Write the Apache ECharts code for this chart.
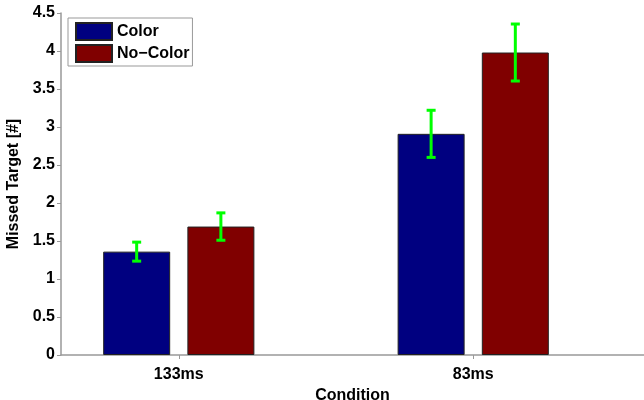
<!DOCTYPE html>
<html lang="en">
<head>
  <meta charset="UTF-8">
  <title>Missed Target</title>
  <script src="https://cdn.jsdelivr.net/npm/echarts@6/dist/echarts.min.js"></script>
</head>
<body style="margin:0;background:#fff;">
  <div id="main" style="width:644px;height:400px;"></div>
  <script>
    // data
    var categories = ['133ms', '83ms']
    var seriesNames = ['Color', 'No\u2212Color']
    var colorVals = [1.36, 2.91]
    var colorErr = [0.125, 0.31]
    var noColorVals = [1.69, 3.98]
    var noColorErr = [0.18, 0.375]

    var offset = 0.143 // group offset in x units (MATLAB grouped bars)
    var font = 'Liberation Sans, Arial, sans-serif'

    function barData(vals, dx) {
      return vals.map(function (v, i) { return [i + 1 + dx, v] })
    }
    function errData(vals, errs, dx) {
      return vals.map(function (v, i) { return [i + 1 + dx, v - errs[i], v + errs[i]] })
    }

    function renderErr(params, api) {
      var lo = api.coord([api.value(0), api.value(1)])
      var hi = api.coord([api.value(0), api.value(2)])
      var cap = 4.5
      var st = { stroke: '#00ff00', lineWidth: 3 }
      return {
        type: 'group',
        children: [
          { type: 'line', shape: { x1: lo[0], y1: lo[1], x2: hi[0], y2: hi[1] }, style: st },
          { type: 'line', shape: { x1: lo[0] - cap, y1: lo[1], x2: lo[0] + cap, y2: lo[1] }, style: st },
          { type: 'line', shape: { x1: hi[0] - cap, y1: hi[1], x2: hi[0] + cap, y2: hi[1] }, style: st }
        ]
      }
    }

    var myChart = echarts.init(document.getElementById('main'))
    var options = {
      animation: false,
      textStyle: { fontFamily: font },
      grid: { left: 61, right: 0, top: 13, bottom: 45, containLabel: false, outerBoundsMode: 'none' },
      legend: {
        orient: 'vertical',
        left: 68,
        top: 18,
        padding: [4, 3, 3, 7],
        itemGap: 3,
        itemWidth: 36,
        itemHeight: 17,
        borderColor: '#999',
        borderWidth: 1,
        backgroundColor: '#fff',
        icon: 'rect',
        data: seriesNames,
        textStyle: { fontSize: 16, fontWeight: 'bold', color: '#000', fontFamily: font, lineHeight: 18 }
      },
      xAxis: {
        type: 'value',
        min: 0.6,
        max: 2.58,
        splitLine: { show: false },
        axisLine: { lineStyle: { color: '#999', width: 1.5 } },
        axisTick: { customValues: [1, 2], length: 4, lineStyle: { color: '#999' } },
        axisLabel: {
          customValues: [1, 2],
          formatter: function (v) { return categories[Math.round(v) - 1] },
          fontSize: 16, fontWeight: 'bold', color: '#000', margin: 12
        },
        name: 'Condition',
        nameLocation: 'middle',
        nameGap: 29,
        nameTextStyle: { fontSize: 16, fontWeight: 'bold', color: '#000' }
      },
      yAxis: {
        type: 'value',
        min: 0,
        max: 4.5,
        interval: 0.5,
        splitLine: { show: false },
        axisLine: { show: true, lineStyle: { color: '#999', width: 1.5 } },
        axisTick: { show: true, length: 4, lineStyle: { color: '#999' } },
        axisLabel: { fontSize: 16, fontWeight: 'bold', color: '#000', margin: 6 },
        name: 'Missed Target [#]',
        nameLocation: 'middle',
        nameGap: 37,
        nameTextStyle: { fontSize: 16, fontWeight: 'bold', color: '#000' }
      },
      series: [
        {
          name: seriesNames[0],
          type: 'bar',
          barWidth: 67,
          barGap: '-100%',
          data: barData(colorVals, -offset),
          itemStyle: { color: '#000080', borderColor: '#222', borderWidth: 1 }
        },
        {
          name: seriesNames[1],
          type: 'bar',
          barWidth: 67,
          barGap: '-100%',
          data: barData(noColorVals, offset),
          itemStyle: { color: '#800000', borderColor: '#222', borderWidth: 1 }
        },
        {
          type: 'custom',
          z: 5,
          renderItem: renderErr,
          data: errData(colorVals, colorErr, -offset).concat(errData(noColorVals, noColorErr, offset))
        }
      ]
    }
    myChart.setOption(options)
  </script>
</body>
</html>
